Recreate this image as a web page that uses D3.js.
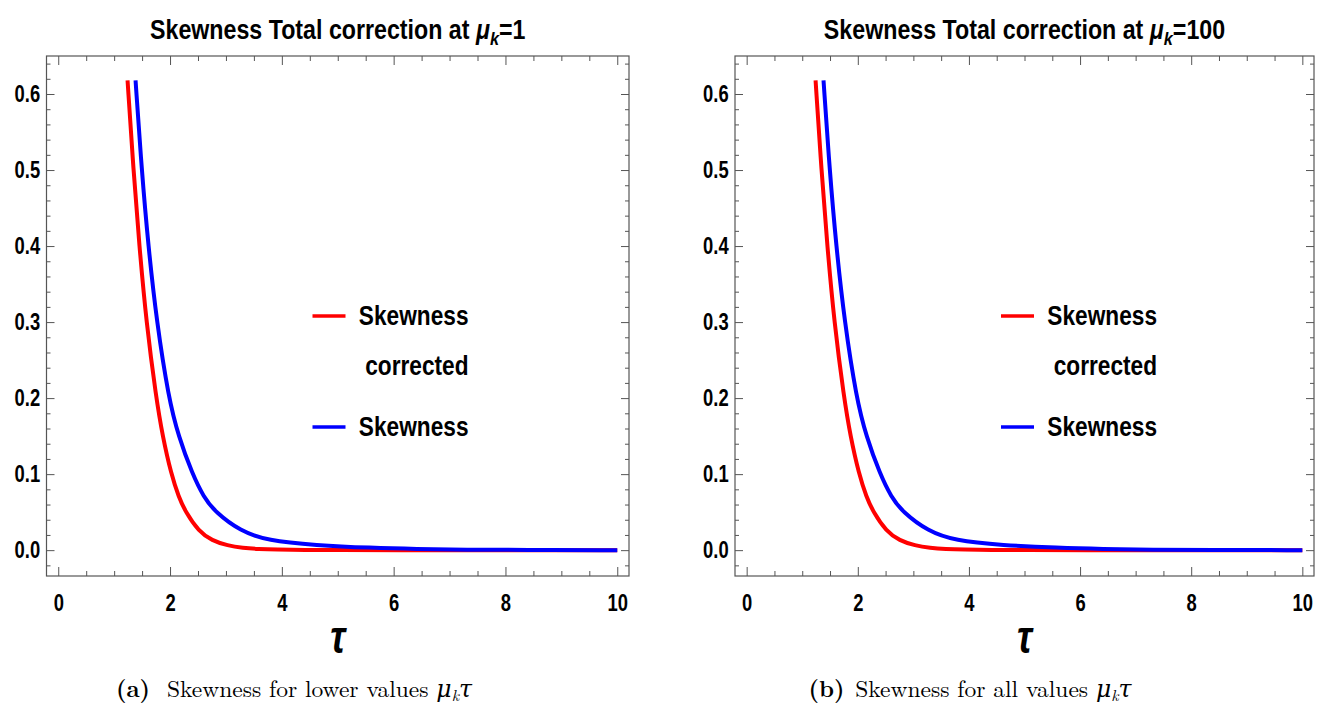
<!DOCTYPE html>
<html>
<head>
<meta charset="utf-8">
<script src="https://cdn.jsdelivr.net/npm/d3@7/dist/d3.min.js"></script>
<style>
body{margin:0;background:#fff;}
svg{display:block;}
</style>
</head>
<body>
<svg width="1325" height="718"></svg>
<script>
// values (both panels look the same)
var tauCorrected  = [1.24, 1.345, 1.451, 1.575, 1.752, 1.867, 2.02, 2.155, 2.28, 2.51, 2.75, 3.03, 3.3, 3.58, 3.9, 4.4, 5.0, 6.0, 8.0, 10.0];
var skewCorrected = [0.618, 0.5, 0.4, 0.3, 0.2, 0.15, 0.1, 0.07, 0.05, 0.025, 0.0125, 0.006, 0.003, 0.0015, 0.0007, 0.0002, 0.00005, 0, 0, 0];
var tauSkew   = [1.383, 1.493, 1.611, 1.762, 1.975, 2.15, 2.40, 2.60, 2.81, 3.26, 3.74, 4.6, 5.6, 6.4, 7.3, 8.3, 10.0];
var skewPlain = [0.618, 0.5, 0.4, 0.3, 0.2, 0.15, 0.1, 0.07, 0.05, 0.025, 0.0125, 0.0065, 0.003, 0.0015, 0.0006, 0.0002, 0];

var xTicks = [0, 2, 4, 6, 8, 10];
var xMinor = [0.5, 1, 1.5, 2.5, 3, 3.5, 4.5, 5, 5.5, 6.5, 7, 7.5, 8.5, 9, 9.5];
var yTicks = [0, 0.1, 0.2, 0.3, 0.4, 0.5, 0.6];
var yMinor = [-0.02, 0.02, 0.04, 0.06, 0.08, 0.12, 0.14, 0.16, 0.18, 0.22, 0.24, 0.26, 0.28, 0.32, 0.34, 0.36, 0.38, 0.42, 0.44, 0.46, 0.48, 0.52, 0.54, 0.56, 0.58, 0.62, 0.64];

var muValues = ['1', '100'];
var captionTags = ['(a)', '(b)'];
var captionTexts = ['Skewness for lower values ', 'Skewness for all values '];
var legendNames = [['Skewness', 'corrected'], ['Skewness']];
var seriesColors = ['#ff0000', '#0000ff'];

var svg = d3.select('svg');
var sans = '"Liberation Sans",Arial,sans-serif';
var serif = '"Latin Modern Roman","CMU Serif","DejaVu Serif",serif';
var frameColor = '#555';

var panels = [
	{left: 46.5, top: 56, right: 629, bottom: 576, capX: 294, capGap: 9},
	{left: 735, top: 56, right: 1314, bottom: 576, capX: 970, capGap: 3}
];

// bold sans squeezed sideways, to look like the narrow font of the original
function narrowText(parent, x, y, size, sx, anchor){
	return parent.append('g').attr('transform', `translate(${x},${y}) scale(${sx},1)`)
		.append('text').attr('text-anchor', anchor)
		.style('font-family', sans).style('font-weight', 'bold').style('font-size', size + 'px');
}

function drawPanel(p, i){
	var xscale = d3.scaleLinear().domain([-0.21, 10.21]).range([p.left, p.right]);
	var yscale = d3.scaleLinear().domain([-0.034, 0.65]).range([p.bottom, p.top]);
	var cx = (p.left + p.right) / 2;
	var g = svg.append('g');

	// ticks, all pointing inward
	g.append('g').attr('transform', `translate(${p.left},0)`)
		.call(d3.axisLeft(yscale).tickValues(yTicks).tickFormat(d3.format('.1f')).tickSize(-8).tickPadding(8));
	g.append('g').attr('transform', `translate(${p.left},0)`)
		.call(d3.axisLeft(yscale).tickValues(yMinor).tickFormat('').tickSize(-4));
	g.append('g').attr('transform', `translate(${p.right},0)`)
		.call(d3.axisRight(yscale).tickValues(yTicks).tickFormat('').tickSize(-8));
	g.append('g').attr('transform', `translate(${p.right},0)`)
		.call(d3.axisRight(yscale).tickValues(yMinor).tickFormat('').tickSize(-4));
	g.append('g').attr('transform', `translate(0,${p.bottom})`)
		.call(d3.axisBottom(xscale).tickValues(xTicks).tickFormat(d3.format('d')).tickSize(-9).tickPadding(19));
	g.append('g').attr('transform', `translate(0,${p.bottom})`)
		.call(d3.axisBottom(xscale).tickValues(xMinor).tickFormat('').tickSize(-5));
	g.append('g').attr('transform', `translate(0,${p.top})`)
		.call(d3.axisTop(xscale).tickValues(xTicks).tickFormat('').tickSize(-9));
	g.append('g').attr('transform', `translate(0,${p.top})`)
		.call(d3.axisTop(xscale).tickValues(xMinor).tickFormat('').tickSize(-5));

	g.selectAll('.domain').remove();
	g.selectAll('.tick line').attr('stroke', frameColor).attr('stroke-width', 1);
	g.selectAll('.tick text').attr('fill', '#000').attr('transform', 'scale(0.8,1)')
		.style('font-family', sans).style('font-weight', 'bold').style('font-size', '23px');

	g.append('rect').attr('x', p.left).attr('y', p.top)
		.attr('width', p.right - p.left).attr('height', p.bottom - p.top)
		.attr('fill', 'none').attr('stroke', frameColor).attr('stroke-width', 1.2);

	// curves
	var line = d3.line().x(d => xscale(d[0])).y(d => yscale(d[1])).curve(d3.curveBasis);
	var series = [d3.zip(tauCorrected, skewCorrected), d3.zip(tauSkew, skewPlain)];
	series.forEach(function(s, k){
		g.append('path').datum(s).attr('d', line)
			.attr('fill', 'none').attr('stroke', seriesColors[k]).attr('stroke-width', 4)
			.attr('stroke-linejoin', 'round');
	});

	// legend
	var lx = p.left + 266, tx = p.left + 422;
	var legY = [316, 427];
	legendNames.forEach(function(names, k){
		g.append('line').attr('x1', lx).attr('x2', lx + 33).attr('y1', legY[k]).attr('y2', legY[k])
			.attr('stroke', seriesColors[k]).attr('stroke-width', 3.5);
		names.forEach(function(nm, j){
			narrowText(g, tx, legY[k] + j * 50, 27, 0.84, 'end').attr('dy', '0.35em').text(nm);
		});
	});

	// title
	var t = narrowText(g, cx, 39, 27, 0.86, 'middle');
	t.append('tspan').text('Skewness Total correction at ');
	t.append('tspan').style('font-style', 'italic').text('\u03bc');
	t.append('tspan').style('font-style', 'italic').style('font-size', '19px').attr('dy', 6).text('k');
	t.append('tspan').attr('dy', -6).text('=' + muValues[i]);

	// axis label
	narrowText(g, cx, 653, 46, 0.8, 'middle').style('font-style', 'italic').text('\u03c4');

	// caption
	var c = g.append('text').attr('x', p.capX).attr('y', 697).attr('text-anchor', 'middle')
		.style('font-family', serif).style('font-size', '23.5px');
	c.append('tspan').style('font-weight', 'bold').text(captionTags[i]);
	c.append('tspan').attr('dx', p.capGap).text(' ' + captionTexts[i]);
	c.append('tspan').style('font-style', 'italic').text('\u03bc');
	c.append('tspan').style('font-style', 'italic').style('font-size', '16px').attr('dy', 4).text('k');
	c.append('tspan').style('font-style', 'italic').attr('dy', -4).text('\u03c4');
}

panels.forEach(drawPanel);
</script>
</body>
</html>
